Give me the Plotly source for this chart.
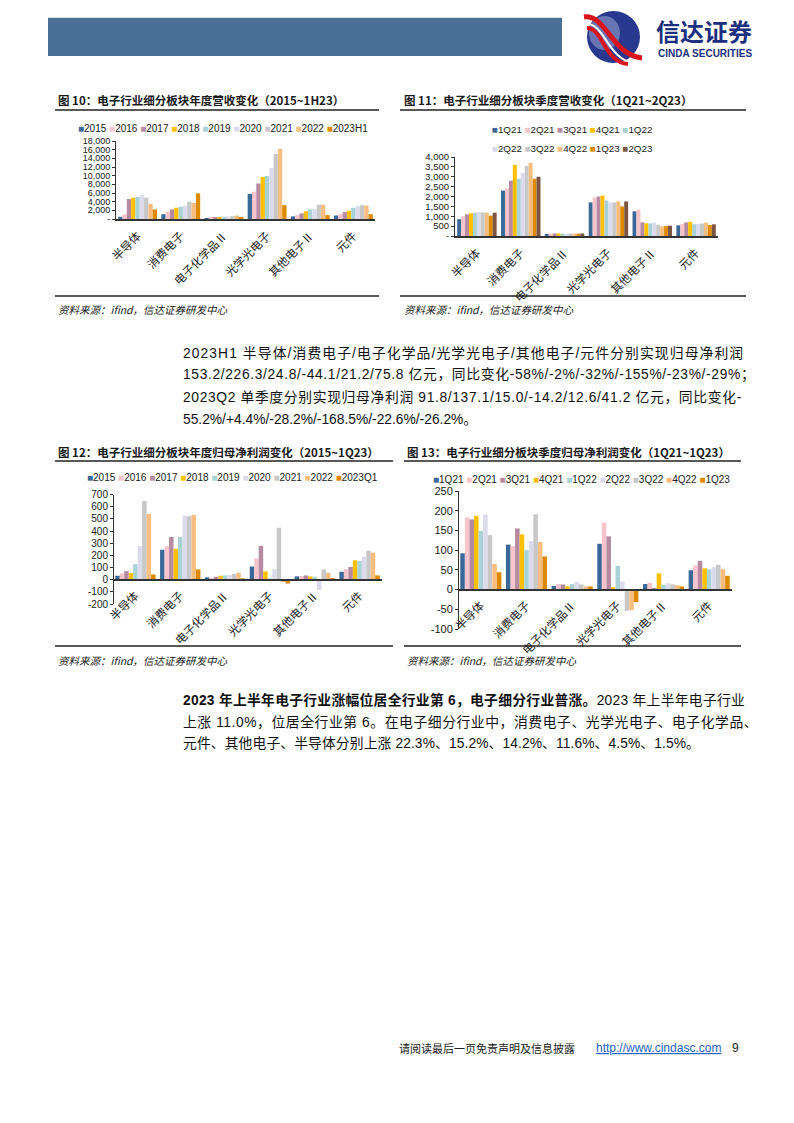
import plotly.graph_objects as go

W, H = 794, 1123
OFF = 8  # page body margin compensation
def fx(px): return (px - OFF) / W
def fy(py): return 1 - (py - OFF) / H

# ---------------- DATA ----------------
categories = ["半导体", "消费电子", "电子化学品Ⅱ", "光学光电子", "其他电子Ⅱ", "元件"]

palette = ["#3A6897", "#F7C4CC", "#B68BA2", "#FFC000", "#A8D2D6",
           "#DCDBEC", "#C8C8C8", "#F8BE80", "#DD8A00", "#7B5544"]

# Fig 10: annual revenue (亿元)
rev_annual_names = ["2015", "2016", "2017", "2018", "2019", "2020", "2021", "2022", "2023H1"]
rev_2015 = [500, 1100, 200, 5800, 600, 800]
rev_2016 = [1100, 1700, 300, 6300, 900, 1100]
rev_2017 = [4600, 2200, 350, 8200, 1300, 1600]
rev_2018 = [4900, 2600, 450, 9700, 1800, 1900]
rev_2019 = [5100, 2800, 500, 9900, 2200, 2600]
rev_2020 = [5500, 3100, 550, 11800, 2300, 3000]
rev_2021 = [4900, 4000, 650, 15000, 3300, 3200]
rev_2022 = [3500, 3700, 800, 16200, 3300, 3100]
rev_2023h1 = [2200, 5900, 250, 3200, 900, 1100]

# Fig 11: quarterly revenue (亿元)
rev_q_names = ["1Q21", "2Q21", "3Q21", "4Q21", "1Q22", "2Q22", "3Q22", "4Q22", "1Q23", "2Q23"]
rev_1q21 = [850, 2300, 100, 1700, 1250, 540]
rev_2q21 = [1000, 2400, 120, 1950, 1330, 610]
rev_3q21 = [1100, 2800, 130, 2000, 690, 690]
rev_4q21 = [1150, 3600, 130, 2050, 640, 720]
rev_1q22 = [1180, 2900, 120, 1800, 640, 600]
rev_2q22 = [1230, 3200, 120, 1700, 680, 610]
rev_3q22 = [1190, 3550, 125, 1700, 570, 630]
rev_4q22 = [1180, 3700, 120, 1750, 490, 680]
rev_1q23 = [1030, 2900, 120, 1500, 500, 550]
rev_2q23 = [1180, 3000, 130, 1750, 520, 590]

# Fig 12: annual net profit attributable (亿元)
np_annual_names = ["2015", "2016", "2017", "2018", "2019", "2020", "2021", "2022", "2023Q1"]
np_2015 = [32, 246, 19, 108, 27, 65]
np_2016 = [51, 276, 16, 173, 30, 86]
np_2017 = [70, 351, 24, 278, 35, 105]
np_2018 = [54, 254, 32, 68, 27, 159]
np_2019 = [127, 351, 35, 3, 24, 154]
np_2020 = [276, 527, 38, 85, -84, 189]
np_2021 = [646, 522, 46, 427, 84, 238]
np_2022 = [540, 532, 57, -20, 57, 222]
np_2023q1 = [43, 84, 11, -32, 14, 35]

# Fig 13: quarterly net profit attributable (亿元)
np_q_names = ["1Q21", "2Q21", "3Q21", "4Q21", "1Q22", "2Q22", "3Q22", "4Q22", "1Q23"]
np_1q21 = [92, 114, 9, 116, 14, 49]
np_2q21 = [183, 110, 14, 170, 17, 61]
np_3q21 = [178, 155, 13, 135, 4, 73]
np_4q21 = [187, 140, 8, 6, 41, 54]
np_1q22 = [149, 100, 14, 60, 12, 51]
np_2q22 = [190, 123, 20, 20, 16, 57]
np_3q22 = [138, 191, 13, -54, 13, 63]
np_4q22 = [65, 121, 8, -52, 11, 52]
np_1q23 = [44, 84, 8, -32, 8, 35]

rev_annual = [rev_2015, rev_2016, rev_2017, rev_2018, rev_2019, rev_2020, rev_2021, rev_2022, rev_2023h1]
rev_quarter = [rev_1q21, rev_2q21, rev_3q21, rev_4q21, rev_1q22, rev_2q22, rev_3q22, rev_4q22, rev_1q23, rev_2q23]
np_annual = [np_2015, np_2016, np_2017, np_2018, np_2019, np_2020, np_2021, np_2022, np_2023q1]
np_quarter = [np_1q21, np_2q21, np_3q21, np_4q21, np_1q22, np_2q22, np_3q22, np_4q22, np_1q23]

FONT = "Liberation Sans, Arial, Noto Sans CJK SC, sans-serif"
CJK = "Noto Sans CJK SC, Liberation Sans, sans-serif"
TXT = "#1a1a1a"

fig = go.Figure()

def add_series(names, series, xa, ya):
    for i, (n, v) in enumerate(zip(names, series)):
        fig.add_trace(go.Bar(x=categories, y=v, name=n, marker=dict(color=palette[i], line=dict(width=0)),
                             xaxis=xa, yaxis=ya, showlegend=False))

add_series(rev_annual_names, rev_annual, "x", "y")
add_series(rev_q_names, rev_quarter, "x2", "y2")
add_series(np_annual_names, np_annual, "x3", "y3")
add_series(np_q_names, np_quarter, "x4", "y4")

def fmt(v):
    if v == 0:
        return "-"
    return f"{v:,}"

# plot geometry (pixels)
g10 = dict(x0=116, x1=375, ytop=141, ybot=219, lo=0, hi=18000, step=2000)
g11 = dict(x0=455, x1=718, ytop=157, ybot=236, lo=0, hi=4000, step=500)
g12 = dict(x0=113, x1=382, ytop=494.5, ybot=604, lo=-200, hi=700, step=100)
g13 = dict(x0=458, x1=732, ytop=491, ybot=629, lo=-100, hi=250, step=50)

def xaxis_cfg(g, anchor, font_size):
    d0, d1 = fy(g["ybot"]), fy(g["ytop"])
    cfg = dict(domain=[fx(g["x0"]), fx(g["x1"])], showline=True, linecolor="#333333", linewidth=1.5,
               ticks="", tickangle=-45, tickfont=dict(size=font_size, family=CJK, color=TXT),
               showgrid=False, zeroline=False, fixedrange=True, ticklabelstandoff=4, automargin=False)
    if g["lo"] < 0:
        cfg["anchor"] = "free"
        cfg["position"] = d0 + (0 - g["lo"]) / (g["hi"] - g["lo"]) * (d1 - d0)
    else:
        cfg["anchor"] = anchor
    return cfg

def yaxis_cfg(g, anchor, font_size, comma=True):
    vals = list(range(g["lo"], g["hi"] + 1, g["step"]))
    text = [fmt(v) if comma else str(v) for v in vals]
    cfg = dict(domain=[fy(g["ybot"]), fy(g["ytop"])], range=[g["lo"], g["hi"]],
               tickvals=vals, ticktext=text, showline=True, linecolor="#333333", linewidth=1,
               ticks="outside", ticklen=3, tickcolor="#333333",
               tickfont=dict(size=font_size, family=FONT, color=TXT),
               showgrid=False, zeroline=False, fixedrange=True, automargin=False)
    if g["lo"] < 0:
        cfg["anchor"] = "free"
        cfg["position"] = fx(g["x0"])
    else:
        cfg["anchor"] = anchor
    return cfg

annotations = []
shapes = []

def ann(x, y, text, size, color=TXT, xanchor="left", family=FONT, **kw):
    annotations.append(dict(x=fx(x), y=fy(y), xref="paper", yref="paper", text=text, showarrow=False,
                            xanchor=xanchor, yanchor="middle", borderpad=0,
                            font=dict(size=size, color=color, family=family), **kw))

def hline(x0, x1, y, width=1.5, color="#222222"):
    shapes.append(dict(type="line", xref="paper", yref="paper", x0=fx(x0), x1=fx(x1), y0=fy(y), y1=fy(y),
                       line=dict(color=color, width=width)))

def legend(names, start, x, y, size):
    items = [f'<span style="color:{palette[start + i]}">■</span>{n}' for i, n in enumerate(names)]
    ann(x, y, "\u00a0".join(items), size, xanchor="center")

# ---------------- HEADER ----------------
shapes.append(dict(type="rect", xref="paper", yref="paper", x0=fx(48), x1=fx(562), y0=fy(56), y1=fy(18),
                   fillcolor="#4A6F97", line=dict(width=0)))
shapes.append(dict(type="line", xref="paper", yref="paper", x0=fx(48), x1=fx(562), y0=fy(17.5), y1=fy(17.5),
                   line=dict(color="#d8dde4", width=1)))
# logo
shapes.append(dict(type="circle", xref="paper", yref="paper", x0=fx(587), x1=fx(640), y0=fy(63), y1=fy(11),
                   fillcolor="#27388E", line=dict(width=0)))
shapes.append(dict(type="circle", xref="paper", yref="paper", x0=fx(589), x1=fx(620), y0=fy(50), y1=fy(16),
                   fillcolor="#9FA8CF", line=dict(width=0), opacity=0.55))
def path_px(pts):
    s = "M {:.5f},{:.5f}".format(fx(pts[0][0]), fy(pts[0][1]))
    s += " C " + " ".join("{:.5f},{:.5f}".format(fx(a), fy(b)) for a, b in pts[1:])
    return s
shapes.append(dict(type="path", xref="paper", yref="paper",
                   path=path_px([(584, 17), (606, 14), (612, 55), (642, 58)]),
                   line=dict(color="#D8141C", width=5)))
shapes.append(dict(type="path", xref="paper", yref="paper",
                   path=path_px([(586, 24), (604, 22), (608, 60), (634, 63)]),
                   line=dict(color="#FFFFFF", width=2)))
shapes.append(dict(type="path", xref="paper", yref="paper",
                   path=path_px([(587, 28), (603, 28), (604, 62), (628, 64)]),
                   line=dict(color="#D8141C", width=4)))
ann(655, 30, "<b>信达证券</b>", 24, color="#1D2F7E", family=CJK)
ann(657, 53, "<b>CINDA SECURITIES</b>", 10, color="#1D2F7E")

# ---------------- CHART TITLES / RULES / SOURCES ----------------
ann(57, 100, "<b>图 10：电子行业细分板块年度营收变化（2015~1H23）</b>", 11.5, family=CJK)
ann(403, 100, "<b>图 11：电子行业细分板块季度营收变化（1Q21~2Q23）</b>", 11.5, family=CJK)
ann(57, 452, "<b>图 12：电子行业细分板块年度归母净利润变化（2015~1Q23）</b>", 11.5, family=CJK)
ann(406, 452, "<b>图 13：电子行业细分板块季度归母净利润变化（1Q21~1Q23）</b>", 11.5, family=CJK)
hline(55, 379, 110)
hline(400, 746, 110)
hline(55, 393, 461)
hline(404, 741, 461)
hline(55, 379, 296)
hline(400, 746, 296)
hline(55, 393, 646)
hline(404, 741, 646)
src = "<i>资料来源：ifind，信达证券研发中心</i>"
ann(57, 309, src, 10.5, family=CJK)
ann(403, 309, src, 10.5, family=CJK)
ann(57, 660, src, 10.5, family=CJK)
ann(406, 660, src, 10.5, family=CJK)

# ---------------- LEGENDS ----------------
legend(rev_annual_names, 0, 223, 128, 10)
legend(rev_q_names[:5], 0, 572, 130, 9.8)
legend(rev_q_names[5:], 5, 572, 148, 9.8)
legend(np_annual_names, 0, 232, 478, 10)
legend(np_q_names, 0, 581, 480, 10)

# ---------------- BODY TEXT ----------------
body = 13.8
def spaced(t, ls):
    return f'<span style="letter-spacing:{ls}px">{t}</span>' if ls else t

p1 = ["2023H1 半导体/消费电子/电子化学品/光学光电子/其他电子/元件分别实现归母净利润",
      "153.2/226.3/24.8/-44.1/21.2/75.8 亿元，同比变化-58%/-2%/-32%/-155%/-23%/-29%；",
      "2023Q2 单季度分别实现归母净利润 91.8/137.1/15.0/-14.2/12.6/41.2 亿元，同比变化-",
      "55.2%/+4.4%/-28.2%/-168.5%/-22.6%/-26.2%。"]
p1_ls = [1.1, 0.65, 0.65, 0]
for i, t in enumerate(p1):
    ann(182, 353 + 22 * i, spaced(t, p1_ls[i]), body, color="#111111")
p2 = ["<b>2023 年上半年电子行业涨幅位居全行业第 6，电子细分行业普涨。</b>2023 年上半年电子行业",
      "上涨 11.0%，位居全行业第 6。在电子细分行业中，消费电子、光学光电子、电子化学品、",
      "元件、其他电子、半导体分别上涨 22.3%、15.2%、14.2%、11.6%、4.5%、1.5%。"]
p2_ls = [0.27, 0.57, 0.1]
for i, t in enumerate(p2):
    ann(182, 700 + 22 * i, spaced(t, p2_ls[i]), body, color="#111111")

# ---------------- FOOTER ----------------
ann(398, 1048, "请阅读最后一页免责声明及信息披露", 11, color="#222222", family=CJK)
ann(595, 1048, "<u>http://www.cindasc.com</u>", 12, color="#2763C0")
ann(731, 1048, "9", 12, color="#222222")

fig.update_layout(
    width=W, height=H, margin=dict(l=0, r=0, t=0, b=0, autoexpand=False),
    paper_bgcolor="white", plot_bgcolor="rgba(0,0,0,0)",
    font=dict(family=FONT, color=TXT),
    barmode="group", bargap=0.1, bargroupgap=0,
    showlegend=False,
    xaxis=xaxis_cfg(g10, "y", 11.5), yaxis=yaxis_cfg(g10, "x", 9),
    xaxis2=xaxis_cfg(g11, "y2", 11.5), yaxis2=yaxis_cfg(g11, "x2", 9.5),
    xaxis3=xaxis_cfg(g12, "y3", 11.5), yaxis3=yaxis_cfg(g12, "x3", 10, comma=False),
    xaxis4=xaxis_cfg(g13, "y4", 11.5), yaxis4=yaxis_cfg(g13, "x4", 11, comma=False),
    annotations=annotations, shapes=shapes,
)

fig.write_html("out.html")
